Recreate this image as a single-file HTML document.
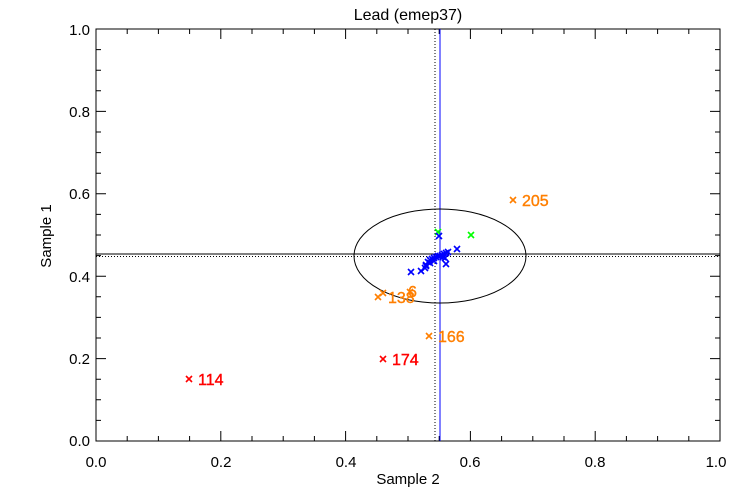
<!DOCTYPE html>
<html><head><style>body{margin:0;background:#fff}svg{display:block}text{font-family:"Liberation Sans",sans-serif}</style></head>
<body>
<svg id="s" width="750" height="500" viewBox="0 0 750 500" xmlns="http://www.w3.org/2000/svg">
<rect width="750" height="500" fill="#fff"/>
<text x="408" y="20" font-size="16" text-anchor="middle">Lead (emep37)</text>
<rect x="96" y="29" width="624" height="412" fill="none" stroke="#000" stroke-width="1"/>
<g id="ticks" stroke="#000" stroke-width="1"></g>
<g font-size="15" text-anchor="end">
<text x="90" y="446">0.0</text><text x="90" y="364">0.2</text><text x="90" y="282">0.4</text><text x="90" y="199">0.6</text><text x="90" y="117">0.8</text><text x="90" y="35">1.0</text>
</g>
<g font-size="15" text-anchor="middle">
<text x="96" y="467">0.0</text><text x="221" y="467">0.2</text><text x="346" y="467">0.4</text><text x="470" y="467">0.6</text><text x="595" y="467">0.8</text><text x="716" y="467">1.0</text>
<text x="408" y="484">Sample 2</text>
<text transform="translate(51,236) rotate(-90)">Sample 1</text>
</g>
<line x1="96" y1="254" x2="720" y2="254" stroke="#000"/>
<line x1="96" y1="256.5" x2="720" y2="256.5" stroke="#000" stroke-dasharray="1,2"/>
<line x1="435" y1="29" x2="435" y2="441" stroke="#000" stroke-dasharray="1,2"/>
<line x1="440" y1="29" x2="440" y2="441" stroke="#00f"/>
<ellipse cx="440" cy="256" rx="86" ry="47" fill="none" stroke="#000"/>
<g id="pts" font-size="16"></g>
</svg>
<script>
var t=document.getElementById('ticks'),d='';
for(var k=0;k<=20;k++){var x=96+31.2*k,L=(k%4==0)?10:5;d+='M'+x+' 441v-'+L+'M'+x+' 29v'+L;
var y=441-20.6*k;d+='M96 '+y+'h'+L+'M720 '+y+'h-'+L;}
t.innerHTML='<path d="'+d+'" fill="none"/>';
var P=document.getElementById('pts'),h='';
function X(x,y,c){h+='<path d="M'+(x-3)+' '+(y-3)+'l6 6M'+(x+3)+' '+(y-3)+'l-6 6" stroke="'+c+'" stroke-width="1.6"/>';}
function T(x,y,s,c){h+='<text x="'+x+'" y="'+y+'" fill="'+c+'" stroke="'+c+'" stroke-width="0.4">'+s+'</text>';}
var R='#f00',O='#ff7f00',B='#00f',G='#0f0';
X(189,379,R);T(198,385,'114',R);
X(383,359,R);T(392,365,'174',R);
X(429,336,O);T(438,342,'166',O);
X(513,200,O);T(522,206,'205',O);
X(378,297,O);X(383,293,O);T(388,303,'138',O);T(408,297,'6',O);X(410,292,O);
X(438,232,G);X(471,235,G);
var b=[[439,236],[457,249],[411,272],[421,271],[425,268],[426,265],[428,262],[430,260],[432,259],[434,258],[436,257],[438,256],[440,256],[442,255],[444,254],[446,253],[448,252],[445,258],[443,257],[446,264],[426,266],[430,263],[434,261]];
b.forEach(function(p){X(p[0],p[1],B)});
P.innerHTML=h;
</script>
</body></html>
